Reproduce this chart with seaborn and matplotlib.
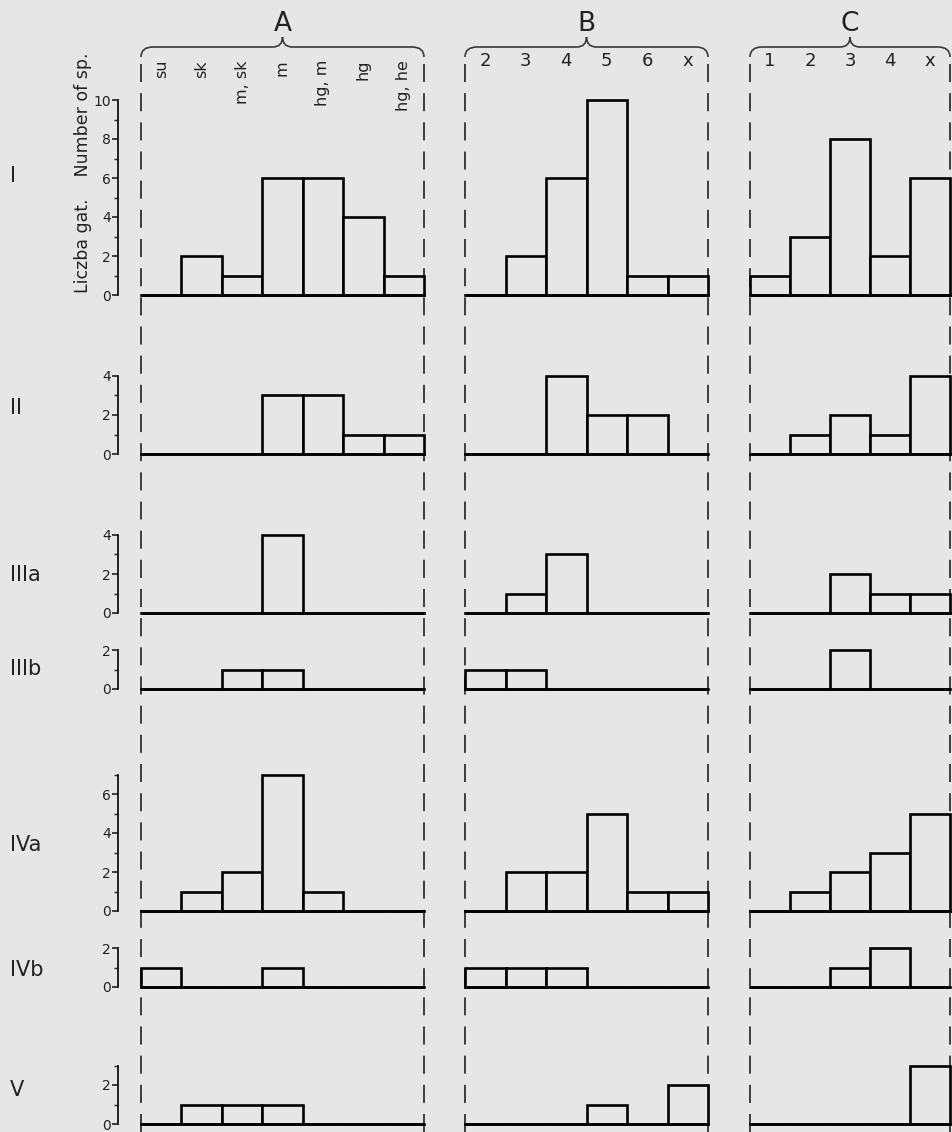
import matplotlib
matplotlib.use("Agg")
import matplotlib.pyplot as plt
import matplotlib.transforms as mtransforms
from matplotlib.path import Path
from matplotlib.patches import PathPatch
import seaborn as sns

# categories of the three groups
cats_A = ["su", "sk", "m, sk", "m", "hg, m", "hg", "hg, he"]
cats_B = ["2", "3", "4", "5", "6", "x"]
cats_C = ["1", "2", "3", "4", "x"]
rows = ["I", "II", "IIIa", "IIIb", "IVa", "IVb", "V"]

# number of species per row (I .. V)
counts_A = [
    [0, 2, 1, 6, 6, 4, 1],
    [0, 0, 0, 3, 3, 1, 1],
    [0, 0, 0, 4, 0, 0, 0],
    [0, 0, 1, 1, 0, 0, 0],
    [0, 1, 2, 7, 1, 0, 0],
    [1, 0, 0, 1, 0, 0, 0],
    [0, 1, 1, 1, 0, 0, 0],
]
counts_B = [
    [0, 2, 6, 10, 1, 1],
    [0, 0, 4, 2, 2, 0],
    [0, 1, 3, 0, 0, 0],
    [1, 1, 0, 0, 0, 0],
    [0, 2, 2, 5, 1, 1],
    [1, 1, 1, 0, 0, 0],
    [0, 0, 0, 1, 0, 2],
]
counts_C = [
    [1, 3, 8, 2, 6],
    [0, 1, 2, 1, 4],
    [0, 0, 2, 1, 1],
    [0, 0, 2, 0, 0],
    [0, 1, 2, 3, 5],
    [0, 0, 1, 2, 0],
    [0, 0, 0, 0, 3],
]
y_max = [10, 4, 4, 2, 7, 2, 3]

# layout (pixels)
W, H = 952, 1132
bg = "#e6e6e6"
group_x = [(141, 424), (465, 708), (750, 950)]
row_base = [295, 454, 613, 689, 911, 987, 1124]
row_label_y = [176, 408, 575, 669, 845, 970, 1090]
px_unit = 19.5

sns.set_theme(style="white", rc={"figure.facecolor": bg, "axes.facecolor": bg})
plt.rcParams["font.family"] = ["DejaVu Sans"]
plt.rcParams["lines.scale_dashes"] = False

fig = plt.figure(figsize=(W / 100, H / 100), dpi=100)

# overlay in pixel coordinates for dashed frames, braces and labels
over = fig.add_axes([0, 0, 1, 1], zorder=0)
over.set_xlim(0, W)
over.set_ylim(H, 0)
over.axis("off")


def brace(ax, x0, x1, y_end=57, y_mid=47, y_peak=37):
    xm = (x0 + x1) / 2
    verts = [(x0, y_end), (x0, y_mid), (x0 + 12, y_mid),
             (xm - 10, y_mid), (xm, y_mid), (xm, y_peak),
             (xm, y_mid), (xm + 10, y_mid),
             (x1 - 12, y_mid), (x1, y_mid), (x1, y_end)]
    codes = [Path.MOVETO, Path.CURVE3, Path.CURVE3,
             Path.LINETO, Path.CURVE3, Path.CURVE3,
             Path.CURVE3, Path.CURVE3,
             Path.LINETO, Path.CURVE3, Path.CURVE3]
    ax.add_patch(PathPatch(Path(verts, codes), fill=False, lw=1.2, ec="#3a3a3a"))


for (x0, x1), letter in zip(group_x, ["A", "B", "C"]):
    over.vlines([x0, x1], 64, H, colors="#303030", lw=1.3, linestyles=(0, (13, 8)))
    brace(over, x0, x1)
    over.text((x0 + x1) / 2, 24, letter, ha="center", va="center", fontsize=19, color="#222")

for lab, y in zip(rows, row_label_y):
    over.text(10, y, lab, ha="left", va="center", fontsize=15, color="#222")

over.text(83, 173, "Liczba gat.    Number of sp.", rotation=90, ha="center", va="center",
          fontsize=12.5, color="#222")

groups = [(cats_A, counts_A), (cats_B, counts_B), (cats_C, counts_C)]
for r in range(len(rows)):
    for g, (cats, counts) in enumerate(groups):
        x0, x1 = group_x[g]
        h = y_max[r] * px_unit
        ax = fig.add_axes([x0 / W, 1 - row_base[r] / H, (x1 - x0) / W, h / H], zorder=2)
        ax.patch.set_alpha(0)
        sns.barplot(x=cats, y=counts[r], ax=ax, color=bg, edgecolor="black",
                    linewidth=1.9, width=1, saturation=1)
        for p in ax.patches:
            p.set_clip_on(False)
        ax.set_xlim(-0.5, len(cats) - 0.5)
        ax.set_ylim(0, y_max[r])
        ax.set_xticks([])
        ax.set_xlabel("")
        ax.set_ylabel("")
        for s in ["top", "right"]:
            ax.spines[s].set_visible(False)
        ax.spines["bottom"].set_linewidth(1.9)
        ax.spines["bottom"].set_color("black")
        if g == 0:
            ax.spines["left"].set_position(("outward", 16.5))
            ax.spines["left"].set_linewidth(1.2)
            ax.spines["left"].set_color("black")
            ax.set_yticks(range(0, y_max[r] + 1, 2))
            ax.set_yticks(range(1, y_max[r] + 1, 2), minor=True)
            ax.tick_params(axis="y", which="major", left=True, direction="out",
                           length=4, width=1.2, labelsize=10, pad=1, colors="#222")
            ax.tick_params(axis="y", which="minor", left=True, direction="out",
                           length=3, width=1.0)
        else:
            ax.spines["left"].set_visible(False)
            ax.set_yticks([])

        # category labels on top of the figure
        if r == 0:
            tr = mtransforms.blended_transform_factory(ax.transData, fig.transFigure)
            for i, c in enumerate(cats):
                if g == 0:
                    ax.text(i, 1 - 60 / H, c, transform=tr, rotation=90, ha="center",
                            va="top", fontsize=11.5, color="#222")
                else:
                    ax.text(i, 1 - 61 / H, c, transform=tr, ha="center", va="center",
                            fontsize=13, color="#222")

fig.savefig("out.png", dpi=100, facecolor=bg)
